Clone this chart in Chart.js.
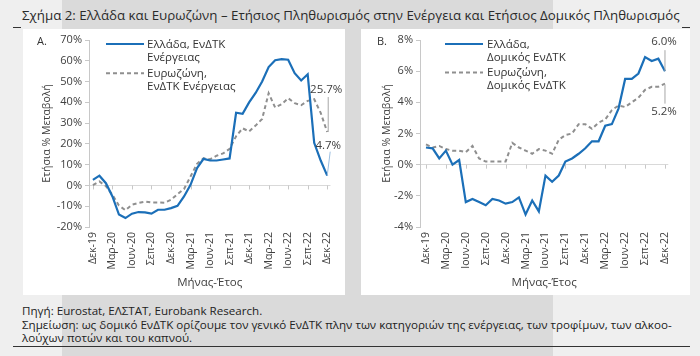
<!DOCTYPE html>
<html><head><meta charset="utf-8">
<script src="https://cdn.jsdelivr.net/npm/chart.js@4/dist/chart.umd.min.js"></script>
<style>
body{margin:0;width:700px;height:356px;background:#efefef;position:relative;overflow:hidden;font-family:'Open Sans',sans-serif;color:#262626}
.band{position:absolute;left:62px;top:0;width:491px;height:356px;background:#dadada}
.panel{position:absolute;top:29px;height:266px;background:#fff}
#pa{left:23px;width:322px}
#pb{left:361px;width:329px}
canvas{position:absolute;left:0;top:0}
.t{position:absolute;white-space:nowrap;line-height:1}
.lg{position:absolute;font-size:11.5px;line-height:12.6px;color:#333;white-space:nowrap}
.rule{position:absolute;height:1px;background:#333}
</style></head>
<body>
<div class="band"></div>
<div class="t" id="title" style="left:22px;top:9px;font-size:14.5px;color:#2a2a2a">Σχήμα 2: Ελλάδα και Ευρωζώνη – Ετήσιος Πληθωρισμός στην Ενέργεια και Ετήσιος Δομικός Πληθωρισμός</div>
<div class="rule" style="left:13px;top:27px;width:8px"></div>
<div class="rule" style="left:682px;top:27px;width:8px"></div>

<div class="panel" id="pa">
  <canvas id="ca" width="322" height="266"></canvas>
  <div class="t" style="left:14px;top:6px;font-size:11px;color:#333">A.</div>
  <svg style="position:absolute;left:83px;top:10px" width="40" height="40"><line x1="0" y1="5" x2="38" y2="5" stroke="#1b6fb8" stroke-width="2.2"/><line x1="0" y1="34.3" x2="38" y2="34.3" stroke="#8f8f8f" stroke-width="2" stroke-dasharray="4 3"/></svg>
  <div class="lg" style="left:124px;top:9px">Ελλάδα, ΕνΔΤΚ<br>Ενέργειας</div>
  <div class="lg" style="left:124px;top:38px">Ευρωζώνη,<br>ΕνΔΤΚ Ενέργειας</div>
</div>
<div class="panel" id="pb">
  <canvas id="cb" width="329" height="266"></canvas>
  <div class="t" style="left:16px;top:6px;font-size:11px;color:#333">B.</div>
  <svg style="position:absolute;left:84px;top:10px" width="40" height="40"><line x1="0" y1="5" x2="38" y2="5" stroke="#1b6fb8" stroke-width="2.2"/><line x1="0" y1="33.5" x2="38" y2="33.5" stroke="#8f8f8f" stroke-width="2" stroke-dasharray="4 3"/></svg>
  <div class="lg" style="left:126px;top:9px">Ελλάδα,<br>Δομικός ΕνΔΤΚ</div>
  <div class="lg" style="left:126px;top:37px">Ευρωζώνη,<br>Δομικός ΕνΔΤΚ</div>
</div>

<div class="t" id="f1" style="left:22px;top:305px;font-size:12px;color:#222">Πηγή: Eurostat, ΕΛΣΤΑΤ, Eurobank Research.</div>
<div class="t" id="f2" style="left:22px;top:319px;font-size:12px;color:#222">Σημείωση: ως δομικό ΕνΔΤΚ ορίζουμε τον γενικό ΕνΔΤΚ πλην των κατηγοριών της ενέργειας, των τροφίμων, των αλκοο-</div>
<div class="t" id="f3" style="left:22px;top:332px;font-size:12px;color:#222">λούχων ποτών και του καπνού.</div>
<div class="rule" style="left:13px;top:346px;width:677px"></div>

<script>
// ---- DATA ----
const months = ['Δεκ-19','Ιαν-20','Φεβ-20','Μαρ-20','Απρ-20','Μαϊ-20','Ιουν-20','Ιουλ-20','Αυγ-20','Σεπ-20','Οκτ-20','Νοε-20',
 'Δεκ-20','Ιαν-21','Φεβ-21','Μαρ-21','Απρ-21','Μαϊ-21','Ιουν-21','Ιουλ-21','Αυγ-21','Σεπ-21','Οκτ-21','Νοε-21',
 'Δεκ-21','Ιαν-22','Φεβ-22','Μαρ-22','Απρ-22','Μαϊ-22','Ιουν-22','Ιουλ-22','Αυγ-22','Σεπ-22','Οκτ-22','Νοε-22','Δεκ-22'];
const tickMonths = ['Δεκ-19','Μαρ-20','Ιουν-20','Σεπ-20','Δεκ-20','Μαρ-21','Ιουν-21','Σεπ-21','Δεκ-21','Μαρ-22','Ιουν-22','Σεπ-22','Δεκ-22'];
const grEnergy = [2.7,4.7,1.1,-5.3,-14.0,-15.7,-13.6,-12.8,-13.0,-13.6,-11.7,-11.7,-10.9,-9.8,-5.3,0.3,8.4,12.8,12.0,12.0,12.5,13.0,
 35.0,34.5,40.0,44.5,50.0,57.0,60.3,60.8,60.5,54.0,50.5,53.5,20.5,12.0,4.7];
const ezEnergy = [0.2,1.9,-0.3,-4.5,-9.7,-11.9,-9.3,-8.4,-7.8,-8.2,-8.2,-8.3,-6.9,-4.2,-1.7,4.3,10.4,13.1,12.6,14.3,15.4,17.6,
 23.7,27.5,26.0,28.8,32.0,44.4,37.5,39.1,42.0,39.6,38.6,40.7,41.5,34.9,25.7];
const grCore = [1.1,1.05,0.4,0.9,0.0,0.3,-2.4,-2.2,-2.4,-2.6,-2.2,-2.3,-2.5,-2.4,-2.1,-3.2,-2.3,-3.0,-0.7,-1.1,-0.7,0.2,
 0.4,0.7,1.05,1.5,1.5,2.5,2.6,3.6,5.5,5.5,5.85,6.9,6.65,6.8,6.0];
const ezCore = [1.3,1.1,1.2,1.0,0.9,0.9,0.8,1.2,0.4,0.2,0.2,0.2,0.2,1.4,1.1,0.9,0.7,1.0,0.9,0.7,1.6,1.9,
 2.0,2.6,2.6,2.3,2.7,2.9,3.5,3.8,3.7,4.0,4.3,4.8,5.0,5.0,5.2];
const ticksA = [-20,-10,0,10,20,30,40,50,60,70];
const ticksB = [-4,-2,0,2,4,6,8];

// fit title / footer widths
function fit(id,w){const e=document.getElementById(id);const fs=parseFloat(e.style.fontSize);e.style.fontSize=(fs*w/e.getBoundingClientRect().width)+'px';}
fit('title',658); fit('f2',650);
document.getElementById('f1').style.fontSize=document.getElementById('f2').style.fontSize;
document.getElementById('f3').style.fontSize=document.getElementById('f2').style.fontSize;

Chart.defaults.font.family = "'Open Sans', sans-serif";
Chart.defaults.color = '#404040';
Chart.defaults.animation = false;

const BLUE='#1b6fb8', GREY='#8f8f8f';
const toPts = arr => arr.map((v,i)=>({x:i,y:v}));

const zeroTicks = {id:'zeroTicks', beforeDatasetsDraw(chart){
  const xs=chart.scales.x, ys=chart.scales.y, ctx=chart.ctx; const y0=ys.getPixelForValue(0);
  ctx.save(); ctx.strokeStyle='#c8c8c8'; ctx.lineWidth=1;
  xs.ticks.forEach(t=>{const x=Math.round(xs.getPixelForValue(t.value))+0.5; ctx.beginPath(); ctx.moveTo(x,y0); ctx.lineTo(x,y0+4); ctx.stroke();});
  ctx.restore();
}};
const annot = {id:'annot', afterDatasetsDraw(chart,args,opts){
  const ctx=chart.ctx;
  (opts.items||[]).forEach(a=>{
    const ds=chart.data.datasets[a.ds]; const n=ds.data.length-1;
    const p=chart.getDatasetMeta(a.ds).data[n]; const x=p.x, y=p.y;
    ctx.save(); ctx.strokeStyle=a.lc; ctx.lineWidth=1;
    ctx.beginPath(); ctx.moveTo(x+a.l[0],y+a.l[1]); ctx.lineTo(x+a.l[2],y+a.l[3]); ctx.stroke();
    ctx.fillStyle='#404040'; ctx.font="11.5px 'Open Sans'"; ctx.textAlign='center'; ctx.textBaseline='middle';
    ctx.fillText(ds.data[n].y.toFixed(1)+'%', x+a.t[0], y+a.t[1]);
    ctx.restore();
  });
}};

function make(id, s1, s2, yticks, opt){
  return new Chart(document.getElementById(id), {
    type:'line',
    data:{datasets:[
      {data:toPts(s1), borderColor:BLUE, borderWidth:2.2, pointRadius:0, tension:0},
      {data:toPts(s2), borderColor:GREY, borderWidth:2, borderDash:[4,3], pointRadius:0, tension:0}
    ]},
    options:{
      responsive:false, maintainAspectRatio:false,
      layout:{padding:{left:opt.padL, top:11, right:opt.padR, bottom:1}},
      plugins:{legend:{display:false}, tooltip:{enabled:false}, annot:{items:opt.annot}},
      scales:{
        x:{type:'linear', min:opt.xmin, max:36.5,
          afterBuildTicks:s=>{s.ticks=tickMonths.map(m=>({value:months.indexOf(m)}));},
          afterFit:s=>{s.height=67;},
          ticks:{autoSkip:false, minRotation:90, maxRotation:90, padding:5, font:{size:10.5}, callback:v=>months[v]},
          grid:{display:false, drawTicks:false}, border:{display:false},
          title:{display:true, text:'Μήνας-Έτος', font:{size:11.5}, color:'#404040', padding:{top:4,bottom:4}}
        },
        y:{min:yticks[0], max:yticks[yticks.length-1],
          afterBuildTicks:s=>{s.ticks=yticks.map(v=>({value:v}));},
          afterFit:s=>{s.width=opt.yw;},
          ticks:{padding:3, font:{size:11}, callback:v=>v+'%'},
          grid:{color:c=>(c.tick&&c.tick.value===0)?'#d9d9d9':'rgba(0,0,0,0)', tickColor:'#c8c8c8', tickLength:4},
          border:{color:'#c8c8c8'},
          title:{display:true, text:'Ετήσια % Μεταβολή', font:{size:10.5}, color:'#404040', padding:{top:4,bottom:4}}
        }
      }
    },
    plugins:[zeroTicks, annot]
  });
}

make('ca', grEnergy, ezEnergy, ticksA, {padL:13.4, yw:52.6, padR:13.7, xmin:-0.6,
  annot:[{ds:1, lc:'#a6a6a6', l:[1,-35,1,0], t:[-1,-42]}, {ds:0, lc:'#9dbfe0', l:[3,-24,0,0], t:[1,-30]}]});
make('cb', grCore, ezCore, ticksB, {padL:15.4, yw:43.6, padR:21.7, xmin:-0.9,
  annot:[{ds:0, lc:'#a6a6a6', l:[0,-21,0,0], t:[-1,-29]}, {ds:1, lc:'#a6a6a6', l:[0,1,0,20], t:[-1,28]}]});
</script>
</body></html>
